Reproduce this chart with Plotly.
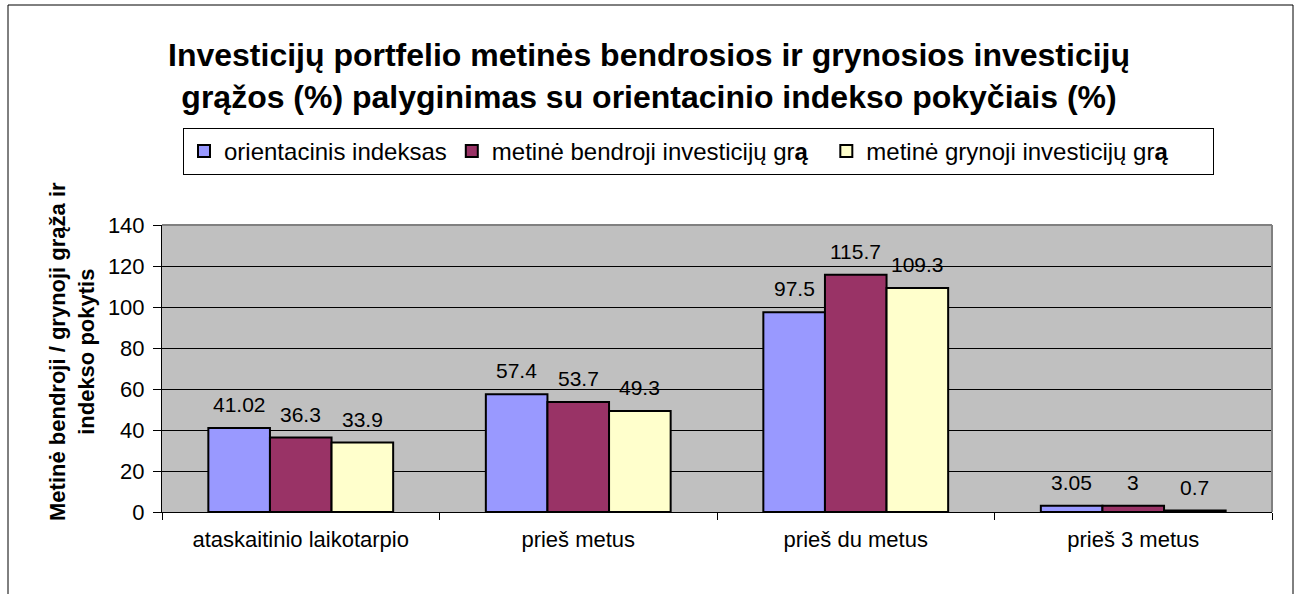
import plotly.graph_objects as go

# ---- data ----
categories = ["ataskaitinio laikotarpio", "prieš metus", "prieš du metus", "prieš 3 metus"]
NB = "\u00a0"
series_names = [
    "orientacinis indeksas",
    "metinė bendroji investicijų gr<b>ą</b>" + NB * 2,
    "metinė grynoji investicijų gr<b>ą</b>" + NB * 6,
]
index_values = [41.02, 57.4, 97.5, 3.05]
gross_values = [36.3, 53.7, 115.7, 3]
net_values = [33.9, 49.3, 109.3, 0.7]
y_ticks = [0, 20, 40, 60, 80, 100, 120, 140]
colors = ["#9999FF", "#993366", "#FFFFCC"]

title_text = ("<b>Investicijų portfelio metinės bendrosios ir grynosios investicijų<br>"
              "grąžos (%) palyginimas su orientacinio indekso pokyčiais (%)</b>")
y_title = "<b>Metinė bendroji / grynoji grąža ir<br>indekso pokytis</b>"

# ---- layout constants ----
W, H = 1298, 594
ML, MR, MT, MB = 162, 26, 225, 82
PW, PH = W - ML - MR, H - MT - MB
BARGAP = 0.334
FONT = "Liberation Sans, Arial, sans-serif"

def px_x(px):
    return (px - ML) / PW

def px_y(py):
    return (H - MB - py) / PH

fig = go.Figure()
all_values = [index_values, gross_values, net_values]
for name, vals, col in zip(series_names, all_values, colors):
    fig.add_trace(go.Bar(
        x=categories, y=vals, name=name,
        marker=dict(color=col, line=dict(color="black", width=2)),
        hoverinfo="x+y",
    ))

# data labels above bars
bar_w = PW / len(categories) * (1 - BARGAP) / len(all_values)
annotations = []
for si, vals in enumerate(all_values):
    shift = (si - (len(all_values) - 1) / 2) * bar_w
    for c, v in zip(categories, vals):
        annotations.append(dict(
            x=c, y=v, xref="x", yref="y", text=f"{v:g}", showarrow=False,
            xshift=shift, yshift=10, yanchor="bottom", xanchor="center",
            font=dict(size=21, color="black", family=FONT),
        ))

annotations.append(dict(
    x=px_x(72), y=px_y(352), xref="paper", yref="paper", text=y_title,
    showarrow=False, textangle=-90, xanchor="center", yanchor="middle",
    font=dict(size=22, color="black", family=FONT),
))

shapes = [
    # outer chart border
    dict(type="rect", xref="paper", yref="paper",
         x0=px_x(8), x1=px_x(1293), y0=px_y(620), y1=px_y(5),
         line=dict(color="black", width=1), fillcolor="rgba(0,0,0,0)", layer="below"),
    # plot-area top and right border (gray)
    dict(type="line", xref="paper", yref="paper", x0=0, x1=1, y0=1, y1=1,
         line=dict(color="#808080", width=2)),
    dict(type="line", xref="paper", yref="paper", x0=1, x1=1, y0=0, y1=1,
         line=dict(color="#808080", width=2)),
]

fig.update_layout(
    width=W, height=H,
    margin=dict(l=ML, r=MR, t=MT, b=MB),
    paper_bgcolor="white", plot_bgcolor="#C0C0C0",
    barmode="group", bargap=BARGAP, bargroupgap=0,
    font=dict(family=FONT, size=22, color="black"),
    title=dict(text=title_text, x=0.5, xanchor="center", xref="container",
               y=1 - 66 / H, yref="container", yanchor="middle",
               font=dict(size=32, color="black", family=FONT)),
    legend=dict(orientation="h", x=px_x(183), xanchor="left",
                y=px_y(128), yanchor="top",
                bordercolor="black", borderwidth=1, bgcolor="white",
                font=dict(size=24, color="black", family=FONT),
                traceorder="normal"),
    annotations=annotations,
    shapes=shapes,
)

fig.update_xaxes(
    type="category", tickson="boundaries", ticks="outside", ticklen=7,
    tickcolor="black", showline=True, linecolor="black", linewidth=1,
    showgrid=False, tickfont=dict(size=22, color="black", family=FONT),
    ticklabelstandoff=8,
)
fig.update_yaxes(
    range=[0, 140], tickmode="array", tickvals=y_ticks, ticks="outside",
    ticklen=8, tickcolor="black", showline=True, linecolor="black", linewidth=1,
    showgrid=True, gridcolor="black", gridwidth=1, zeroline=False,
    tickfont=dict(size=22, color="black", family=FONT), ticklabelstandoff=4,
)

fig.write_html("out.html", config={"displayModeBar": False},
               post_script="document.body.style.margin='0';document.body.style.overflow='hidden';")
